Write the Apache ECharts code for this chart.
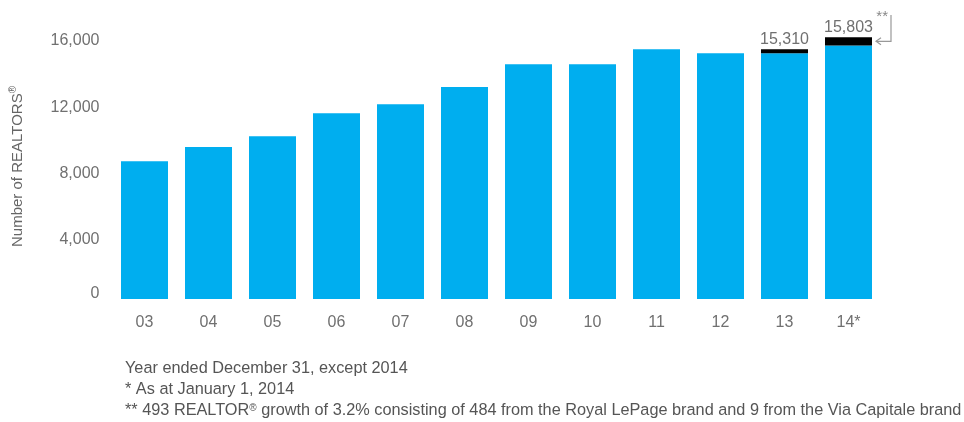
<!DOCTYPE html>
<html>
<head>
<meta charset="utf-8">
<script src="https://cdn.jsdelivr.net/npm/echarts@6/dist/echarts.min.js"></script>
<style>
  html, body { margin: 0; padding: 0; background: #fff; }
  #chart { width: 964px; height: 422px; }
</style>
</head>
<body>
<div id="chart"></div>
<script>
// years on the x axis
const years = ['03', '04', '05', '06', '07', '08', '09', '10', '11', '12', '13', '14*'];
// base number of realtors (blue part)
const realtors = [8320, 9170, 9830, 11220, 11760, 12800, 14170, 14170, 15080, 14840, 14840, 15310];
// added realtors (black part), only last two years
const growth = [null, null, null, null, null, null, null, null, null, null, 240, 493];
// totals printed above the bars
const totalLabels = ['', '', '', '', '', '', '', '', '', '', '15,310', '15,803'];
const yTicks = [0, 4000, 8000, 12000, 16000];

const notes = [
  'Year ended December 31, except 2014',
  '* As at January 1, 2014',
  '** 493 REALTOR{sup|®} growth of 3.2% consisting of 484 from the Royal LePage brand and 9 from the Via Capitale brand'
];

const font = 'Liberation Sans, Arial, sans-serif';
const grey = '#707070';

const chart = echarts.init(document.getElementById('chart'));

const option = {
  animation: false,
  grid: { left: 112.5, right: 83.5, top: 34, bottom: 123 },
  xAxis: {
    type: 'category',
    data: years,
    axisLine: { show: false },
    axisTick: { show: false },
    axisLabel: { color: grey, fontSize: 16, fontFamily: font, margin: 16 }
  },
  yAxis: {
    type: 'value',
    min: yTicks[0],
    max: yTicks[yTicks.length - 1],
    interval: 4000,
    splitLine: { show: false },
    axisLine: { show: false },
    axisTick: { show: false },
    axisLabel: {
      margin: 13,
      // the printed labels sit a little below their ticks, the zero a little above
      formatter: v => v === 0 ? '{z|0}' : '{n|' + v.toLocaleString('en-US') + '}',
      rich: {
        n: { color: grey, fontSize: 16, fontFamily: font, padding: [14, 0, 0, 0] },
        z: { color: grey, fontSize: 16, fontFamily: font, padding: [0, 0, 10, 0] }
      }
    },
    name: '{a|Number of REALTORS}{s|®}',
    nameLocation: 'middle',
    nameRotate: 90,
    nameGap: 86,
    nameTextStyle: {
      rich: {
        a: { fontSize: 15, color: '#666', fontFamily: font, lineHeight: 18 },
        s: { fontSize: 10, color: '#666', fontFamily: font, verticalAlign: 'top', lineHeight: 18 }
      }
    }
  },
  series: [
    {
      type: 'bar',
      stack: 'all',
      data: realtors,
      barWidth: 47,
      itemStyle: { color: '#00AEEF' }
    },
    {
      type: 'bar',
      stack: 'all',
      data: growth,
      barWidth: 47,
      itemStyle: { color: '#000' },
      label: {
        show: true,
        position: 'top',
        distance: 2,
        color: grey,
        fontSize: 16,
        fontFamily: font,
        formatter: p => totalLabels[p.dataIndex]
      }
    }
  ]
};
chart.setOption(option);

// footnotes and the ** arrow
const last = years.length - 1;
const mid = chart.convertToPixel({ seriesIndex: 0 }, [last, realtors[last] + growth[last] / 2]);
const barRight = mid[0] + 23.5;
const ax = barRight + 4, bx = barRight + 19, topY = 15;

const graphics = notes.map((t, i) => ({
  type: 'text',
  left: 125,
  top: 361 + i * 21,
  style: {
    text: t,
    fill: '#555',
    font: '16.3px ' + font,
    rich: { sup: { fontSize: 10, fill: '#555', fontFamily: font, verticalAlign: 'top', lineHeight: 16 } }
  }
}));
graphics.push(
  {
    type: 'polyline',
    shape: { points: [[ax, mid[1]], [bx, mid[1]], [bx, topY]] },
    style: { stroke: '#999', lineWidth: 1.2, fill: null }
  },
  {
    type: 'polyline',
    shape: { points: [[ax + 5, mid[1] - 3.5], [ax, mid[1]], [ax + 5, mid[1] + 3.5]] },
    style: { stroke: '#999', lineWidth: 1.2, fill: null }
  },
  {
    type: 'text',
    x: bx - 3,
    y: topY - 6,
    style: { text: '**', fill: '#888', font: '15px ' + font, align: 'right' }
  }
);
chart.setOption({ graphic: graphics });
</script>
</body>
</html>
